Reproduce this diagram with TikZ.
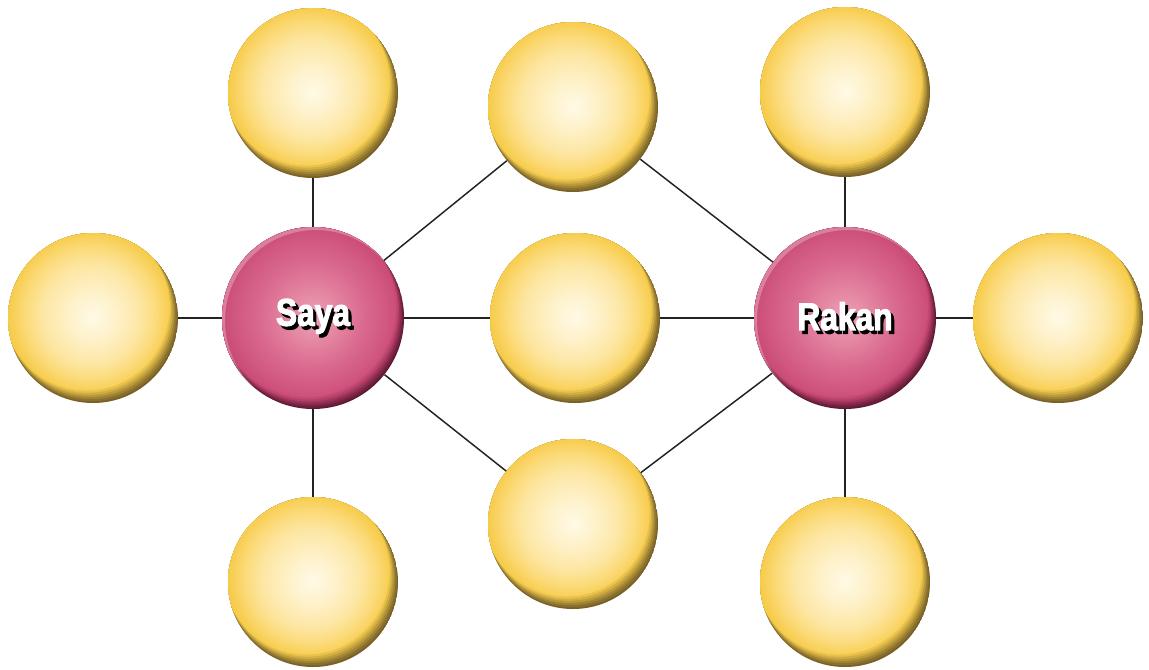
\documentclass[tikz,border=0pt]{standalone}
\usepackage{fontspec}
\newfontfamily\lab{Liberation Sans}[FakeStretch=0.82,FakeBold=2.5]
\definecolor{yc0}{HTML}{FFF9E6}
\definecolor{yc1}{HTML}{FEF2CB}
\definecolor{yc2}{HTML}{FDE6A2}
\definecolor{yc3}{HTML}{FBDA78}
\definecolor{yc4}{HTML}{F8CF55}
\definecolor{yc5}{HTML}{F5CB48}
\definecolor{pc0}{HTML}{EDA3B8}
\definecolor{pc1}{HTML}{E3839F}
\definecolor{pc2}{HTML}{D9688F}
\definecolor{pc3}{HTML}{D15880}
\definecolor{pc4}{HTML}{C94A76}
\definecolor{edgecol}{HTML}{222222}
\pgfdeclareradialshading{ysph}{\pgfpoint{2bp}{-3bp}}{color(0bp)=(yc0); color(7bp)=(yc1); color(15bp)=(yc2); color(20bp)=(yc3); color(23.5bp)=(yc4); color(25bp)=(yc5); color(50bp)=(yc5)}
\pgfdeclareradialshading{psph}{\pgfpoint{2bp}{-3bp}}{color(0bp)=(pc0); color(8bp)=(pc1); color(15bp)=(pc2); color(21bp)=(pc3); color(25bp)=(pc4); color(50bp)=(pc4)}
\tikzset{
  ysphere/.style={circle, inner sep=0pt, minimum size=127.5pt,
    path picture={
      \foreach \k/\c in {0/7A6226,1/8A7030,2/A08433,3/B99A3A,4/D2AE43,5/E8C24C}{
        \definecolor{lc}{HTML}{\c}
        \fill[lc] ([shift={(-0.8*\k pt,1.3*\k pt)}]path picture bounding box.center) circle ({64-0.3*\k pt});
      }
      \shade[shading=ysph] ([shift={(-4.8pt,7.8pt)}]path picture bounding box.center) circle (62.2pt);
    }},
  psphere/.style={circle, inner sep=0pt, minimum size=136.5pt,
    path picture={
      \foreach \k/\c in {0/5A1832,1/6E1F3E,2/84294B,3/9C3358,4/B33F67,5/C34873}{
        \definecolor{lc}{HTML}{\c}
        \fill[lc] ([shift={(-0.8*\k pt,1.3*\k pt)}]path picture bounding box.center) circle ({69-0.3*\k pt});
      }
      \shade[shading=psph] ([shift={(-4.8pt,7.8pt)}]path picture bounding box.center) circle (67.2pt);
      \fill[white,opacity=0.28,even odd rule] (path picture bounding box.center) circle (69pt)
        ([shift={(2pt,-2pt)}]path picture bounding box.center) circle (68pt);
    }},
  link/.style={draw=edgecol, line width=1.1pt},
  namelab/.style={font=\lab\bfseries\fontsize{29pt}{29pt}\selectfont}
}
\newcommand{\shadowtext}[1]{\rlap{\kern2.4pt\raisebox{-2.6pt}{\color{black}#1}}{\color{white}#1}}
\begin{document}
\begin{tikzpicture}[x=0.75pt,y=-0.75pt]
\fill[white] (0,0) rectangle (1149,669);
\useasboundingbox (0,0) rectangle (1149,669);
% yellow spheres
\node[ysphere] (tl) at (313,93) {};
\node[ysphere] (l) at (93,318) {};
\node[ysphere] (bl) at (313,582) {};
\node[ysphere] (tm) at (573,107) {};
\node[ysphere] (m) at (575,318) {};
\node[ysphere] (bm) at (573,524) {};
\node[ysphere] (tr) at (845,92) {};
\node[ysphere] (r) at (1058,318) {};
\node[ysphere] (br) at (845,582) {};
% pink spheres
\node[psphere, namelab] (saya) at (313,318) {\shadowtext{Saya}};
\node[psphere, namelab] (rakan) at (845,318) {\shadowtext{Rakan}};
% connectors
\draw[link] (saya) -- (tl);
\draw[link] (saya) -- (l);
\draw[link] (saya) -- (bl);
\draw[link] (saya) -- (tm);
\draw[link] (saya) -- (m);
\draw[link] (saya) -- (bm);
\draw[link] (rakan) -- (tm);
\draw[link] (rakan) -- (m);
\draw[link] (rakan) -- (bm);
\draw[link] (rakan) -- (tr);
\draw[link] (rakan) -- (r);
\draw[link] (rakan) -- (br);
\end{tikzpicture}
\end{document}
